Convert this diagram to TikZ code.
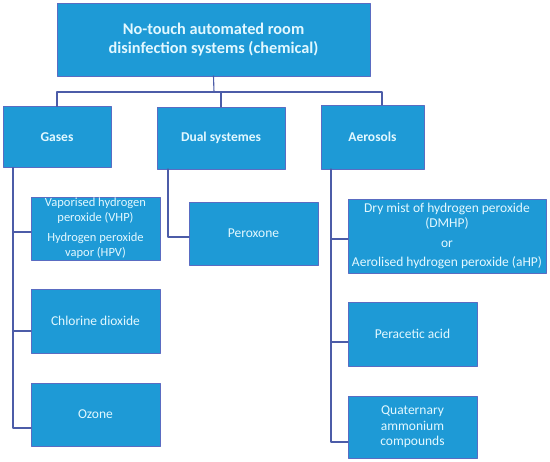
\documentclass[tikz,border=0pt]{standalone}
\usepackage{fontspec}
\setmainfont{Carlito}
\definecolor{boxblue}{HTML}{1E9AD6}
\definecolor{boxedge}{HTML}{5A6CC2}
\definecolor{linkblue}{HTML}{4C5CA8}
\definecolor{textcyan}{HTML}{E2F8FF}
\begin{document}
\begin{tikzpicture}[x=1pt, y=-1pt, line cap=round, line join=round,
    box/.style={draw=boxedge, fill=boxblue, line width=0.9pt, text=textcyan,
        align=center, inner sep=0pt, outer sep=0pt},
    topbox/.style={box, font=\fontsize{16.3}{18.5}\selectfont\bfseries},
    catbox/.style={box, font=\fontsize{13.5}{16}\selectfont\bfseries},
    leafbox/.style={box, font=\fontsize{13.5}{15.5}\selectfont},
    link/.style={draw=linkblue, line width=1.1pt}]

    \useasboundingbox (0,0) rectangle (550,462);

    % ------------------------------------------------------------------
    % 1. Root and the three families
    % ------------------------------------------------------------------
    \node[topbox, minimum width=313pt, minimum height=73pt] (root) at (213.5,39.5)
        {No-touch automated room\\disinfection systems (chemical)};

    \node[catbox, minimum width=108pt, minimum height=61pt] (gases) at (57,137) {Gases};
    \node[catbox, minimum width=128pt, minimum height=62pt] (dual) at (221,138) {Dual systemes};
    \node[catbox, minimum width=103pt, minimum height=64pt] (aerosols) at (372.5,137) {Aerosols};

    % ------------------------------------------------------------------
    % 2. Leaves under each family
    % ------------------------------------------------------------------
    \node[leafbox, font=\fontsize{12.5}{15}\selectfont, minimum width=129pt, minimum height=63pt]
        (vhp) at (95.5,228.5)
        {Vaporised hydrogen\\peroxide (VHP)\\[5pt]Hydrogen peroxide\\vapor (HPV)};
    \node[leafbox, minimum width=129pt, minimum height=64pt] (chlorine) at (95.5,321) {Chlorine dioxide};
    \node[leafbox, minimum width=129pt, minimum height=63pt] (ozone) at (95.5,414.5) {Ozone};

    \node[leafbox, minimum width=129pt, minimum height=63pt] (peroxone) at (253.5,233.5) {Peroxone};

    \node[leafbox, minimum width=198pt, minimum height=74pt] (dmhp) at (447,236)
        {Dry mist of hydrogen peroxide\\(DMHP)\\[4pt]or\\[4pt]Aerolised hydrogen peroxide (aHP)};
    \node[leafbox, minimum width=129pt, minimum height=64pt] (peracetic) at (412.5,334) {Peracetic acid};
    \node[leafbox, minimum width=129pt, minimum height=62pt] (quat) at (412.5,427)
        {Quaternary\\ammonium\\compounds};

    % ------------------------------------------------------------------
    % 3. Bus from the root to the families
    % ------------------------------------------------------------------
    \coordinate (bus) at (214,92);
    \draw[link] (root.south) -- (bus);
    \draw[link] (gases.north) |- (bus) -| ([xshift=9.5pt]aerosols.north);
    \draw[link] (dual.north) -- (dual.north |- bus);

    % ------------------------------------------------------------------
    % 4. Trunks and branches (y grows downwards, so shifts are negative)
    % ------------------------------------------------------------------
    \coordinate (gtrunk) at ([xshift=10pt]gases.south west);
    \draw[link] (gtrunk) |- ([yshift=-13.5pt]ozone.west);
    \draw[link] (gtrunk |- vhp.west) ++(0,3.5) -- ([yshift=-3.5pt]vhp.west);
    \draw[link] (gtrunk |- chlorine.west) ++(0,10) -- ([yshift=-10pt]chlorine.west);

    \coordinate (dtrunk) at ([xshift=11pt]dual.south west);
    \draw[link] (dtrunk) |- ([yshift=-3.5pt]peroxone.west);

    \coordinate (atrunk) at ([xshift=10pt]aerosols.south west);
    \draw[link] (atrunk) |- ([yshift=-15pt]quat.west);
    \draw[link] (atrunk |- dmhp.west) ++(0,3) -- ([yshift=-3pt]dmhp.west);
    \draw[link] (atrunk |- peracetic.west) ++(0,8) -- ([yshift=-8pt]peracetic.west);

\end{tikzpicture}
\end{document}
